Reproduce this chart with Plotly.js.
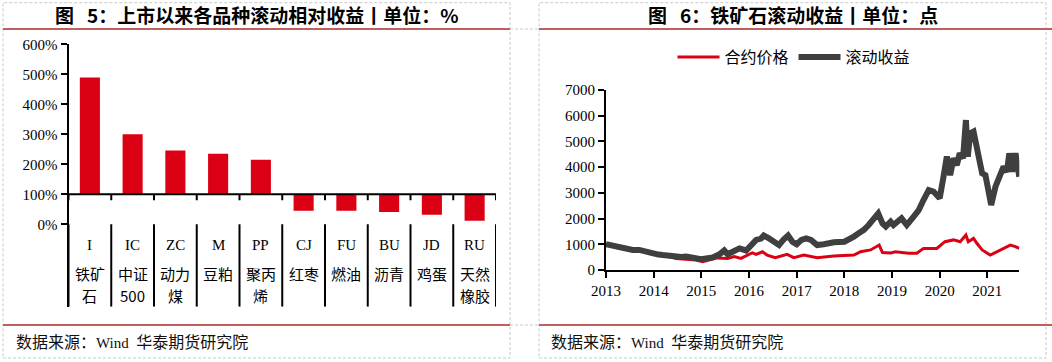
<!DOCTYPE html>
<html><head><meta charset="utf-8">
<script src="https://cdn.plot.ly/plotly-3.0.1.min.js"></script>
<style>html,body{margin:0;padding:0;background:#fff;}#chart{width:1052px;height:362px;}</style>
</head><body><div id="chart"></div>
<script>
// ---- Left chart data ----
const codes = ['I','IC','ZC','M','PP','CJ','FU','BU','JD','RU'];
const namesLine1 = ['铁矿','中证','动力','豆粕','聚丙','红枣','燃油','沥青','鸡蛋','天然'];
const namesLine2 = ['石','500','煤','','烯','','','','','橡胶'];
const relReturn = [489,300,246,235,215,45,45,41,32,12];
const leftTicks = [0,100,200,300,400,500,600];

// ---- Right chart data ----
const rollYears = [2013.00,2013.10,2013.21,2013.35,2013.45,2013.56,2013.70,2013.84,2014.00,2014.10,2014.19,2014.33,2014.47,2014.58,2014.68,2014.80,2014.89,2015.00,2015.10,2015.24,2015.38,2015.48,2015.55,2015.66,2015.80,2015.94,2016.04,2016.15,2016.25,2016.31,2016.40,2016.52,2016.63,2016.72,2016.82,2016.91,2017.00,2017.10,2017.20,2017.30,2017.43,2017.57,2017.78,2018.00,2018.10,2018.20,2018.30,2018.41,2018.51,2018.62,2018.71,2018.80,2018.87,2018.97,2019.03,2019.20,2019.31,2019.45,2019.56,2019.66,2019.77,2019.87,2020.00,2020.08,2020.15,2020.22,2020.29,2020.36,2020.42,2020.49,2020.55,2020.59,2020.64,2020.71,2020.77,2020.82,2020.89,2020.96,2021.03,2021.08,2021.17,2021.27,2021.34,2021.41,2021.46,2021.52,2021.59,2021.67];
const rollValues = [1000,960,910,840,860,780,780,710,610,600,580,560,490,510,520,480,490,420,450,490,610,760,610,710,840,760,970,1170,1220,1340,1250,1100,970,1170,1340,1100,1000,1170,1230,1170,970,1000,1080,1100,1170,1300,1430,1560,1750,2010,2200,1810,1690,1880,1750,2010,1750,2070,2330,2720,3110,3050,2790,3630,4410,3690,4340,4080,4540,4340,5830,4410,5310,5380,4800,4410,3760,3690,2980,2530,3240,3630,4020,3820,4540,3820,4540,3630];
const priceYears = [2013.00,2013.21,2013.35,2013.56,2013.84,2014.00,2014.19,2014.33,2014.47,2014.68,2014.89,2015.03,2015.20,2015.33,2015.55,2015.69,2015.83,2015.97,2016.07,2016.15,2016.28,2016.38,2016.55,2016.80,2016.94,2017.15,2017.36,2017.43,2017.78,2017.99,2018.20,2018.34,2018.55,2018.73,2018.80,2018.97,2019.07,2019.35,2019.52,2019.66,2019.94,2020.11,2020.29,2020.43,2020.55,2020.60,2020.71,2020.78,2020.89,2021.06,2021.27,2021.48,2021.59,2021.67];
const priceValues = [1000,910,840,780,710,610,560,520,450,420,390,320,390,470,450,520,450,580,670,610,710,580,480,610,480,580,520,480,540,560,580,710,780,970,680,660,710,650,650,840,840,1100,1170,1100,1360,1100,1230,1040,780,580,780,970,910,840];
const yearTicks = [2013,2014,2015,2016,2017,2018,2019,2020,2021];
const rightYTicks = [0,1000,2000,3000,4000,5000,6000,7000];

const titles = ['图\u00a0\u00a0\u00a05：上市以来各品种滚动相对收益丨单位：%','图\u00a0\u00a0\u00a06：铁矿石滚动收益丨单位：点'];
const sourceText = '<span style="font-size:16px">数据来源：</span>Wind\u00a0\u00a0<span style="font-size:16px">华泰期货研究院</span>';

// ---- Layout helpers ----
const W = 1052, H = 362;
const fx = x => x / W, fy = y => 1 - y / H;
const serif = 'Liberation Serif, "Noto Sans CJK SC", serif';
const cjk = '"Noto Sans CJK SC", sans-serif';
const BROWN = '#C0605E', DASH = '#C8C8C8';

const traces = [
  {type:'bar', x:codes, y:relReturn.map(v => v - 100), base:100, width:0.47,
   marker:{color:'#DC0014'}, xaxis:'x', yaxis:'y', showlegend:false, hoverinfo:'skip'},
  {type:'scatter', mode:'lines', x:priceYears, y:priceValues, name:'合约价格',
   line:{color:'#DC0014', width:3}, xaxis:'x2', yaxis:'y2'},
  {type:'scatter', mode:'lines', x:rollYears, y:rollValues, name:'滚动收益',
   line:{color:'#3F3F3F', width:6}, xaxis:'x2', yaxis:'y2'}
];

const shapes = [];
const annotations = [];
// panel borders (dashed)
[[3,510],[539,1046]].forEach(([a,b]) => {
  shapes.push({type:'rect', xref:'paper', yref:'paper', x0:fx(a), x1:fx(b), y0:fy(358), y1:fy(2.7),
    line:{color:DASH, width:1, dash:'3px,2px'}});
});
[29,325].forEach(y => shapes.push({type:'line', xref:'paper', yref:'paper', x0:fx(510), x1:fx(539), y0:fy(y), y1:fy(y),
  line:{color:DASH, width:1, dash:'3px,2px'}}));
// brown separator lines
[[3,510],[539,1052]].forEach(([a,b]) => {
  [29,325].forEach(y => shapes.push({type:'line', xref:'paper', yref:'paper', x0:fx(a), x1:fx(b), y0:fy(y), y1:fy(y),
    line:{color:BROWN, width:2}}));
});
// left chart: category axis crossing at 100%
shapes.push({type:'line', xref:'x', yref:'y', x0:-0.5, x1:codes.length-0.5, y0:100, y1:100, line:{color:'#000', width:2}});
for (let i = 0; i <= codes.length; i++) {
  shapes.push({type:'line', xref:'x', yref:'y', x0:i-0.5, x1:i-0.5, y0:100, y1:80, line:{color:'#000', width:2}});
  shapes.push({type:'line', xref:'x', yref:'y', x0:i-0.5, x1:i-0.5, y0:0, y1:-274.7, line:{color:'#000', width:2}});
}
codes.forEach((c, i) => {
  annotations.push({xref:'x', yref:'paper', x:c, y:fy(244.5), yanchor:'middle', xanchor:'center',
    text:c, showarrow:false, font:{family:serif, size:15, color:'#000'}});
  annotations.push({xref:'x', yref:'paper', x:c, y:fy(273), yanchor:'middle', xanchor:'center',
    text:namesLine1[i], showarrow:false, font:{family:cjk, size:15, color:'#000'}});
  if (namesLine2[i]) annotations.push({xref:'x', yref:'paper', x:c, y:fy(295), yanchor:'middle', xanchor:'center',
    text:namesLine2[i], showarrow:false, font:{family:cjk, size:15, color:'#000'}});
});
// titles
[256.5, 792.5].forEach((cx, i) => annotations.push({xref:'paper', yref:'paper', x:fx(cx), y:fy(15),
  xanchor:'center', yanchor:'middle', showarrow:false, text:'<b>'+titles[i]+'</b>',
  font:{family:cjk, size:19, color:'#000'}}));
// sources
[14, 549].forEach(sx => annotations.push({xref:'paper', yref:'paper', x:fx(sx), y:fy(342),
  xanchor:'left', yanchor:'middle', showarrow:false, text:sourceText,
  font:{family:serif, size:15, color:'#111'}}));

const layout = {
  width:W, height:H, margin:{l:0, r:0, t:0, b:0},
  paper_bgcolor:'#fff', plot_bgcolor:'rgba(0,0,0,0)',
  xaxis:{domain:[fx(68.5), fx(496)], type:'category', range:[-0.5, codes.length-0.5],
    showline:false, showgrid:false, zeroline:false, ticks:'', showticklabels:false, fixedrange:true},
  yaxis:{domain:[fy(306.7), fy(44.3)], range:[-274.7, 600], tickvals:leftTicks,
    ticktext:leftTicks.map(v => v + '%'), showline:true, linewidth:2, linecolor:'#000',
    ticks:'outside', ticklen:6, tickwidth:2, tickcolor:'#000', showgrid:false, zeroline:false,
    tickfont:{family:serif, size:15, color:'#000'}, fixedrange:true},
  xaxis2:{domain:[fx(606), fx(1019.3)], anchor:'y2', range:[2013, 2021.67], tickvals:yearTicks,
    ticktext:yearTicks.map(String), showline:true, linewidth:2, linecolor:'#000',
    ticks:'outside', ticklen:6, tickwidth:2, tickcolor:'#000', showgrid:false, zeroline:false,
    tickfont:{family:serif, size:15, color:'#000'}, fixedrange:true},
  yaxis2:{domain:[fy(270), fy(90)], anchor:'x2', range:[0, 7000], tickvals:rightYTicks,
    showline:true, linewidth:2, linecolor:'#000', ticks:'outside', ticklen:6, tickwidth:2,
    tickcolor:'#000', showgrid:false, zeroline:false,
    tickfont:{family:serif, size:15, color:'#000'}, fixedrange:true},
  showlegend:true,
  legend:{orientation:'h', x:fx(794), xanchor:'center', y:fy(57), yanchor:'middle',
    font:{family:cjk, size:16, color:'#000'}, bgcolor:'rgba(0,0,0,0)', itemwidth:42, traceorder:'normal'},
  shapes:shapes, annotations:annotations
};

Plotly.newPlot('chart', traces, layout, {staticPlot:true, displayModeBar:false});
</script>
</body></html>
